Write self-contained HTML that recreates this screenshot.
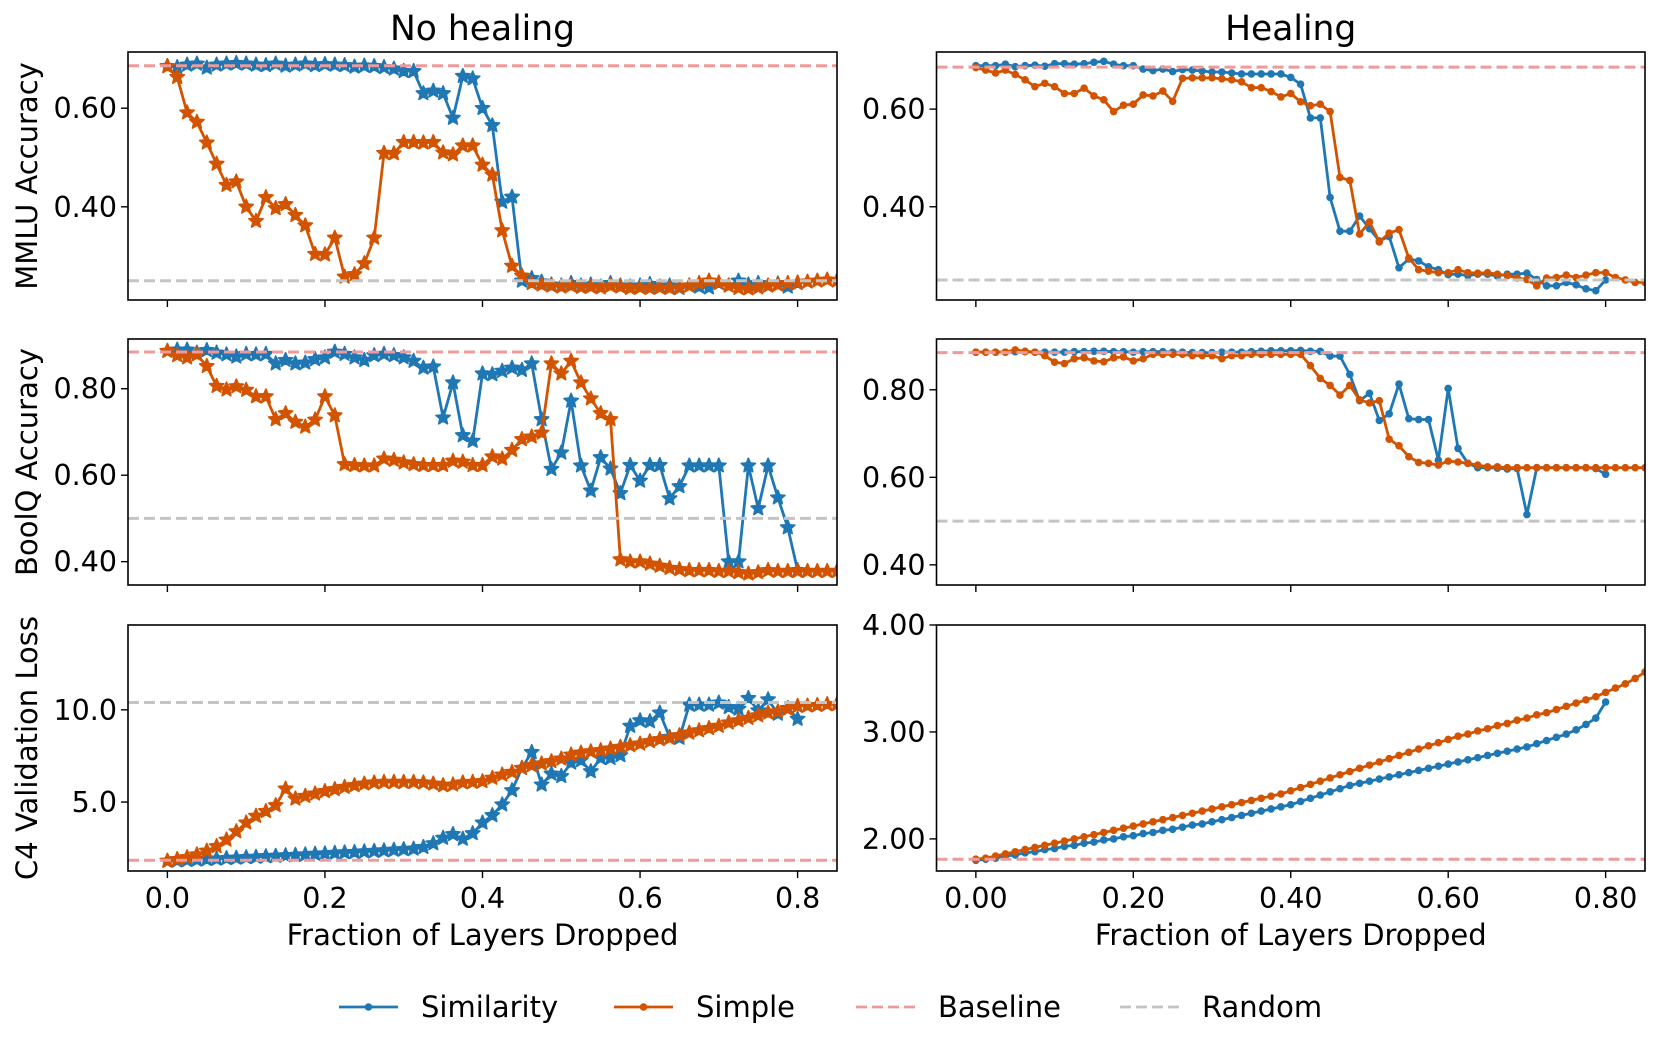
<!DOCTYPE html>
<html><head><meta charset="utf-8"><style>
html,body{margin:0;padding:0;background:#fff;}
svg{display:block;font-family:"DejaVu Sans","Liberation Sans",sans-serif;}
</style></head><body>
<svg id="fig" width="1661" height="1050" viewBox="0 0 1661 1050" xmlns="http://www.w3.org/2000/svg"></svg>
<script>
const step = 0.0125;
const xTicksLeft = ["0.0","0.2","0.4","0.6","0.8"];
const xTicksRight = ["0.00","0.20","0.40","0.60","0.80"];
const xTickVals = [0,0.2,0.4,0.6,0.8];

const mmluSimLeft = [0.685,0.683,0.688,0.69,0.682,0.688,0.69,0.691,0.69,0.688,0.687,0.69,0.686,0.688,0.69,0.687,0.689,0.688,0.687,0.684,0.686,0.685,0.683,0.68,0.675,0.675,0.63,0.635,0.63,0.58,0.665,0.66,0.60,0.565,0.41,0.42,0.25,0.255,0.248,0.242,0.24,0.245,0.24,0.242,0.238,0.245,0.24,0.238,0.24,0.243,0.238,0.24,0.235,0.24,0.238,0.236,0.245,0.24,0.25,0.242,0.245,0.24,0.244,0.238,0.245];
const mmluSimpLeft = [0.685,0.663,0.591,0.572,0.53,0.487,0.444,0.451,0.40,0.371,0.419,0.397,0.405,0.383,0.362,0.304,0.303,0.337,0.258,0.263,0.285,0.337,0.509,0.508,0.531,0.531,0.53,0.531,0.51,0.506,0.524,0.524,0.485,0.465,0.352,0.28,0.26,0.245,0.242,0.24,0.238,0.24,0.237,0.238,0.236,0.24,0.238,0.235,0.236,0.235,0.236,0.235,0.236,0.24,0.245,0.25,0.246,0.24,0.235,0.234,0.236,0.24,0.242,0.245,0.246,0.248,0.25,0.252,0.25];
const boolqSimLeft = [0.887,0.89,0.89,0.883,0.889,0.883,0.879,0.874,0.88,0.879,0.88,0.858,0.866,0.858,0.86,0.868,0.872,0.885,0.88,0.872,0.866,0.877,0.88,0.877,0.872,0.864,0.848,0.851,0.733,0.814,0.692,0.679,0.835,0.833,0.841,0.848,0.843,0.858,0.729,0.614,0.652,0.772,0.622,0.564,0.641,0.615,0.558,0.623,0.587,0.623,0.623,0.546,0.574,0.622,0.622,0.622,0.622,0.40,0.40,0.622,0.523,0.622,0.548,0.479,0.38];
const boolqSimpLeft = [0.887,0.877,0.872,0.879,0.852,0.806,0.798,0.805,0.797,0.782,0.782,0.729,0.743,0.723,0.712,0.728,0.782,0.738,0.625,0.623,0.622,0.622,0.638,0.635,0.629,0.625,0.623,0.623,0.623,0.633,0.631,0.623,0.623,0.643,0.638,0.658,0.683,0.689,0.698,0.858,0.835,0.864,0.814,0.777,0.743,0.729,0.405,0.40,0.40,0.395,0.39,0.385,0.382,0.38,0.38,0.38,0.378,0.378,0.375,0.372,0.375,0.38,0.378,0.378,0.378,0.378,0.378,0.378,0.378];
const lossSimLeft = [1.80,1.82,1.85,1.87,1.90,1.92,1.95,1.97,2.00,2.02,2.05,2.07,2.10,2.12,2.15,2.18,2.20,2.23,2.26,2.28,2.31,2.34,2.37,2.40,2.43,2.46,2.55,2.75,3.05,3.25,3.0,3.3,3.88,4.28,4.86,5.63,6.84,7.7,5.94,6.53,6.4,7.13,7.26,6.66,7.38,7.38,7.53,9.12,9.42,9.37,9.84,8.52,8.47,10.27,10.27,10.27,10.38,10.14,10.05,10.63,9.96,10.56,9.78,10.09,9.5];
const lossSimpLeft = [1.80,1.9,2.0,2.15,2.35,2.6,2.95,3.4,3.88,4.24,4.5,4.82,5.72,5.18,5.32,5.45,5.58,5.69,5.81,5.9,5.99,6.05,6.08,6.08,6.08,6.08,6.05,5.99,5.9,5.94,6.05,6.08,6.12,6.3,6.48,6.62,6.84,6.99,7.08,7.2,7.35,7.56,7.67,7.74,7.8,7.89,7.98,8.07,8.16,8.29,8.4,8.47,8.61,8.75,8.88,9.0,9.12,9.3,9.42,9.55,9.69,9.84,9.91,10.05,10.2,10.22,10.25,10.3,10.3];

const mmluSimRight = [0.689,0.689,0.689,0.692,0.687,0.689,0.690,0.688,0.693,0.693,0.692,0.693,0.696,0.698,0.692,0.689,0.689,0.682,0.679,0.682,0.677,0.681,0.680,0.678,0.676,0.676,0.674,0.672,0.672,0.672,0.672,0.672,0.665,0.651,0.582,0.582,0.419,0.35,0.35,0.381,0.355,0.33,0.339,0.275,0.293,0.289,0.277,0.271,0.261,0.262,0.259,0.262,0.262,0.258,0.262,0.262,0.264,0.251,0.238,0.238,0.245,0.24,0.232,0.228,0.25];
const mmluSimpRight = [0.685,0.68,0.674,0.68,0.671,0.66,0.646,0.653,0.646,0.632,0.632,0.643,0.627,0.619,0.595,0.608,0.61,0.629,0.627,0.637,0.616,0.663,0.664,0.664,0.664,0.662,0.66,0.656,0.644,0.644,0.636,0.625,0.632,0.615,0.607,0.61,0.595,0.46,0.454,0.344,0.369,0.328,0.346,0.353,0.295,0.271,0.268,0.265,0.265,0.271,0.265,0.264,0.265,0.262,0.259,0.254,0.251,0.238,0.254,0.255,0.26,0.255,0.26,0.265,0.265,0.255,0.25,0.245,0.245];
const boolqSimRight = [0.886,0.886,0.886,0.886,0.887,0.887,0.886,0.886,0.886,0.886,0.887,0.887,0.888,0.888,0.887,0.887,0.886,0.887,0.887,0.887,0.886,0.886,0.885,0.885,0.885,0.886,0.886,0.886,0.887,0.888,0.889,0.889,0.889,0.89,0.888,0.888,0.877,0.877,0.835,0.775,0.792,0.73,0.745,0.813,0.734,0.732,0.732,0.639,0.803,0.666,0.632,0.622,0.622,0.621,0.619,0.62,0.515,0.622,0.622,0.622,0.622,0.622,0.622,0.62,0.607];
const boolqSimpRight = [0.886,0.886,0.886,0.886,0.891,0.888,0.886,0.878,0.863,0.86,0.871,0.873,0.866,0.864,0.873,0.875,0.866,0.871,0.881,0.881,0.881,0.881,0.878,0.878,0.878,0.871,0.878,0.878,0.881,0.881,0.881,0.881,0.881,0.881,0.855,0.826,0.81,0.788,0.81,0.777,0.77,0.775,0.687,0.672,0.647,0.634,0.632,0.628,0.637,0.635,0.632,0.628,0.624,0.624,0.622,0.622,0.622,0.622,0.622,0.622,0.622,0.622,0.622,0.622,0.622,0.622,0.622,0.622,0.622];
const lossSimRight = [1.80,1.81,1.82,1.84,1.85,1.87,1.88,1.90,1.91,1.93,1.94,1.96,1.97,1.99,2.00,2.02,2.03,2.05,2.06,2.08,2.09,2.11,2.13,2.14,2.16,2.18,2.20,2.22,2.24,2.26,2.28,2.30,2.32,2.35,2.38,2.41,2.44,2.47,2.50,2.52,2.54,2.56,2.58,2.60,2.62,2.64,2.66,2.68,2.70,2.72,2.74,2.76,2.78,2.80,2.82,2.84,2.86,2.89,2.92,2.95,2.98,3.02,3.07,3.13,3.28];
const lossSimpRight = [1.81,1.82,1.84,1.86,1.88,1.90,1.92,1.94,1.96,1.98,2.00,2.02,2.04,2.06,2.08,2.10,2.12,2.14,2.16,2.18,2.20,2.22,2.24,2.26,2.28,2.30,2.32,2.34,2.36,2.38,2.40,2.42,2.45,2.48,2.51,2.54,2.57,2.60,2.63,2.66,2.69,2.72,2.75,2.78,2.81,2.84,2.87,2.90,2.93,2.96,2.98,3.01,3.03,3.06,3.08,3.11,3.13,3.16,3.18,3.21,3.24,3.27,3.30,3.33,3.37,3.41,3.45,3.50,3.56];

const NS = "http://www.w3.org/2000/svg";
const svg = document.getElementById("fig");
const BLUE = "#1f77b4", ORANGE = "#d35400", PINK = "#ee9a9a", GRAY = "#c4c4c4";

function el(tag, attrs, parent) {
  const e = document.createElementNS(NS, tag);
  for (const k in attrs) e.setAttribute(k, attrs[k]);
  (parent || svg).appendChild(e);
  return e;
}
function starPts(cx, cy, R) {
  const r = R * 0.45; let p = [];
  for (let k = 0; k < 10; k++) {
    const a = -Math.PI / 2 + k * Math.PI / 5, rr = k % 2 ? r : R;
    p.push((cx + rr * Math.cos(a)).toFixed(1) + "," + (cy + rr * Math.sin(a)).toFixed(1));
  }
  return p.join(" ");
}

const panels = [
  {id:"mmlu-no-healing", x0:128, x1:837, y0:52, y1:300, ymin:0.211, ymax:0.714, yt:[0.40,0.60], ytl:["0.40","0.60"], sim:mmluSimLeft, simp:mmluSimpLeft, base:0.686, rand:0.25, marker:"star", xl:null},
  {id:"mmlu-healing", x0:936.5, x1:1645, y0:52, y1:300, ymin:0.209, ymax:0.717, yt:[0.40,0.60], ytl:["0.40","0.60"], sim:mmluSimRight, simp:mmluSimpRight, base:0.686, rand:0.25, marker:"dot", xl:null},
  {id:"boolq-no-healing", x0:128, x1:837, y0:339, y1:585, ymin:0.346, ymax:0.915, yt:[0.40,0.60,0.80], ytl:["0.40","0.60","0.80"], sim:boolqSimLeft, simp:boolqSimpLeft, base:0.885, rand:0.50, marker:"star", xl:null},
  {id:"boolq-healing", x0:936.5, x1:1645, y0:339, y1:585, ymin:0.354, ymax:0.916, yt:[0.40,0.60,0.80], ytl:["0.40","0.60","0.80"], sim:boolqSimRight, simp:boolqSimpRight, base:0.885, rand:0.50, marker:"dot", xl:null},
  {id:"c4-no-healing", x0:128, x1:837, y0:625, y1:871, ymin:1.26, ymax:14.6, yt:[5,10], ytl:["5.0","10.0"], sim:lossSimLeft, simp:lossSimpLeft, base:1.84, rand:10.4, marker:"star", xl:xTicksLeft},
  {id:"c4-healing", x0:936.5, x1:1645, y0:625, y1:871, ymin:1.70, ymax:4.00, yt:[2,3,4], ytl:["2.00","3.00","4.00"], sim:lossSimRight, simp:lossSimpRight, base:1.81, rand:10.4, marker:"dot", xl:xTicksRight}
];

panels.forEach((P, pi) => {
  const g = el("g", {});
  
  
  const xs = v => P.x0 + (v + 0.05) / 0.9 * (P.x1 - P.x0);
  const ys = v => P.y1 - (v - P.ymin) / (P.ymax - P.ymin) * (P.y1 - P.y0);
  const cid = "clip" + pi;
  const cp = el("clipPath", {id: cid}, g);
  el("rect", {x:P.x0, y:P.y0, width:P.x1-P.x0, height:P.y1-P.y0}, cp);
  const plot = el("g", {"clip-path":"url(#"+cid+")"}, g);

  [["similarity", P.sim, BLUE], ["simple", P.simp, ORANGE]].forEach(([nm, arr, col]) => {
    const sg = el("g", {}, plot);
    
    
    const pts = arr.map((v, i) => xs(i * step).toFixed(1) + "," + ys(v).toFixed(1)).join(" ");
    const line = el("polyline", {points:pts, fill:"none", stroke:col, "stroke-width":2.8, "stroke-linejoin":"round"}, sg);
    
    
    arr.forEach((v, i) => {
      let m;
      if (P.marker === "star") m = el("polygon", {points:starPts(xs(i*step), ys(v), 7.5), fill:col, stroke:col, "stroke-width":1.6, "stroke-linejoin":"round"}, sg);
      else m = el("circle", {cx:xs(i*step), cy:ys(v), r:3.8, fill:col}, sg);
      
      
    });
  });
  [["baseline", P.base, PINK], ["random", P.rand, GRAY]].forEach(([nm, v, col]) => {
    if (v < P.ymin || v > P.ymax) return;
    const l = el("line", {x1:P.x0, x2:P.x1, y1:ys(v), y2:ys(v), stroke:col, "stroke-width":3, "stroke-dasharray":"11,5"}, plot);
    
    
  });

  const frame = el("rect", {x:P.x0, y:P.y0, width:P.x1-P.x0, height:P.y1-P.y0, fill:"none", stroke:"#000", "stroke-width":1.6}, g);
  
  

  xTickVals.forEach((v, i) => {
    el("line", {x1:xs(v), x2:xs(v), y1:P.y1, y2:P.y1+7, stroke:"#000", "stroke-width":1.4}, g);
    if (P.xl) {
      const t = el("text", {x:xs(v), y:P.y1+37, "font-size":28.5, "text-anchor":"middle", fill:"#000"}, g);
      t.textContent = P.xl[i];
      
      
    }
  });
  P.yt.forEach((v, i) => {
    el("line", {x1:P.x0-7, x2:P.x0, y1:ys(v), y2:ys(v), stroke:"#000", "stroke-width":1.4}, g);
    const t = el("text", {x:P.x0-11, y:ys(v)+10, "font-size":28.5, "text-anchor":"end", fill:"#000"}, g);
    t.textContent = P.ytl[i];
    
    
  });
  if (P.xl) {
    const t = el("text", {x:(P.x0+P.x1)/2, y:945, "font-size":29, "text-anchor":"middle", fill:"#000"}, g);
    t.textContent = "Fraction of Layers Dropped";
    
    
  }
});

[["No healing", 482.5], ["Healing", 1290.7]].forEach(([s, x]) => {
  const t = el("text", {x:x, y:40, "font-size":34.5, "text-anchor":"middle", fill:"#000"});
  t.textContent = s;
  
  
});
[["MMLU Accuracy", 176], ["BoolQ Accuracy", 462], ["C4 Validation Loss", 748]].forEach(([s, y]) => {
  const t = el("text", {x:0, y:0, "font-size":29, "text-anchor":"middle", fill:"#000", transform:"translate(37," + y + ") rotate(-90)"});
  t.textContent = s;
  
  
});

const legend = el("g", {});


[["Similarity", 339, BLUE, "dot"], ["Simple", 614, ORANGE, "dot"], ["Baseline", 856, PINK, "dash"], ["Random", 1120, GRAY, "dash"]].forEach(([s, x, col, kind]) => {
  const eg = el("g", {}, legend);
  
  
  el("line", {x1:x, x2:x+59, y1:1007, y2:1007, stroke:col, "stroke-width":2.8, "stroke-dasharray": kind === "dash" ? "11,5" : "none"}, eg);
  if (kind === "dot") el("circle", {cx:x+29.5, cy:1007, r:3.8, fill:col}, eg);
  const t = el("text", {x:x+82, y:1017, "font-size":29, fill:"#000"}, eg);
  t.textContent = s;
});
</script>
</body></html>
